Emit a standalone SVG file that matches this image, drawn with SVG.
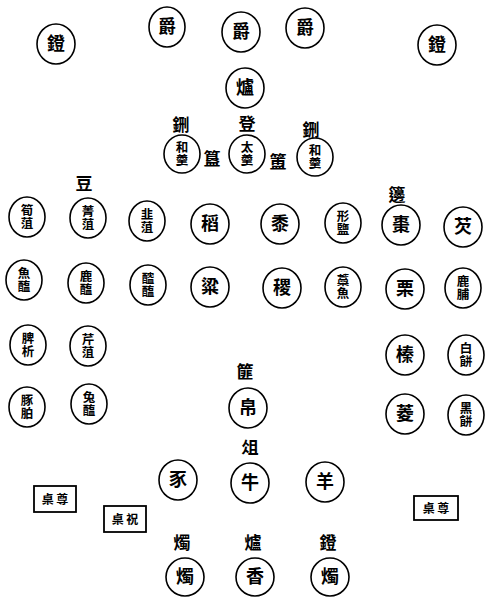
<svg xmlns="http://www.w3.org/2000/svg" width="489" height="597" viewBox="0 0 489 597">
<style>
.c{fill:none;stroke:#000;stroke-width:1.6}
.b{fill:none;stroke:#000;stroke-width:1.8}
text{font-family:"Noto Sans CJK TC","Noto Sans CJK SC",sans-serif;fill:#000;text-anchor:middle;font-weight:bold}
.s{font-size:18px}
.d{font-size:12.5px;writing-mode:vertical-rl;letter-spacing:1px}
.l{font-size:17px}
.bx{font-size:12px}
</style>
<rect width="489" height="597" fill="#fff"/>
<g id="connectors"/>
<g id="deng-l"><ellipse class="c" cx="56" cy="44" rx="19" ry="20"/><text class="s" x="56" y="50">鐙</text></g>
<g id="jue1"><ellipse class="c" cx="167" cy="27" rx="18" ry="20"/><text class="s" x="167" y="33">爵</text></g>
<g id="jue2"><ellipse class="c" cx="241" cy="32" rx="19" ry="20"/><text class="s" x="241" y="38">爵</text></g>
<g id="jue3"><ellipse class="c" cx="305" cy="28" rx="19" ry="20"/><text class="s" x="305" y="34">爵</text></g>
<g id="deng-r"><ellipse class="c" cx="437" cy="45" rx="19" ry="20"/><text class="s" x="437" y="51">鐙</text></g>
<g id="lu"><ellipse class="c" cx="245" cy="88" rx="19" ry="20"/><text class="s" x="245" y="94">爐</text></g>

<g id="xing-l-label"><text class="l" x="181" y="131">鉶</text></g>
<g id="deng-label"><text class="l" x="247" y="130">登</text></g>
<g id="xing-r-label"><text class="l" x="311" y="136">鉶</text></g>
<g id="hegeng-l"><ellipse class="c" cx="182" cy="154" rx="18" ry="19"/><text class="d" x="182" y="154">和羹</text></g>
<g id="gui"><text class="l" x="212" y="165">簋</text></g>
<g id="taigeng"><ellipse class="c" cx="247" cy="154" rx="18" ry="19"/><text class="d" x="247" y="154">太羹</text></g>
<g id="fu"><text class="l" x="278" y="168">簠</text></g>
<g id="hegeng-r"><ellipse class="c" cx="315" cy="157" rx="18" ry="19"/><text class="d" x="315" y="157">和羹</text></g>

<g id="dou-label"><text class="l" x="84" y="190">豆</text></g>
<g id="bian-label"><text class="l" x="397" y="201">籩</text></g>

<g id="sunzu"><ellipse class="c" cx="27" cy="217" rx="18" ry="20"/><text class="d" x="27" y="217">筍菹</text></g>
<g id="jingzu"><ellipse class="c" cx="88" cy="218" rx="18" ry="20"/><text class="d" x="88" y="218">菁菹</text></g>
<g id="jiuzu"><ellipse class="c" cx="147" cy="221" rx="18" ry="20"/><text class="d" x="147" y="221">韭菹</text></g>
<g id="dao"><ellipse class="c" cx="210" cy="224" rx="19" ry="20"/><text class="s" x="210" y="230">稻</text></g>
<g id="shu"><ellipse class="c" cx="280" cy="224" rx="19" ry="20"/><text class="s" x="280" y="230">黍</text></g>
<g id="xingyan"><ellipse class="c" cx="343" cy="223" rx="18" ry="20"/><text class="d" x="343" y="223">形鹽</text></g>
<g id="zao"><ellipse class="c" cx="401" cy="225" rx="19" ry="20"/><text class="s" x="401" y="231">棗</text></g>
<g id="qian"><ellipse class="c" cx="463" cy="227" rx="19" ry="20"/><text class="s" x="463" y="233">芡</text></g>

<g id="yuhai"><ellipse class="c" cx="24" cy="280" rx="18" ry="20"/><text class="d" x="24" y="280">魚醢</text></g>
<g id="luhai"><ellipse class="c" cx="86" cy="283" rx="18" ry="20"/><text class="d" x="86" y="283">鹿醢</text></g>
<g id="tanhai"><ellipse class="c" cx="148" cy="285" rx="18" ry="20"/><text class="d" x="148" y="285">醓醢</text></g>
<g id="liang"><ellipse class="c" cx="210" cy="287" rx="19" ry="20"/><text class="s" x="210" y="293">粱</text></g>
<g id="ji"><ellipse class="c" cx="282" cy="288" rx="19" ry="20"/><text class="s" x="282" y="294">稷</text></g>
<g id="gaoyu"><ellipse class="c" cx="343" cy="287" rx="18" ry="20"/><text class="d" x="343" y="287">藁魚</text></g>
<g id="li"><ellipse class="c" cx="405" cy="289" rx="19" ry="20"/><text class="s" x="405" y="295">栗</text></g>
<g id="lufu"><ellipse class="c" cx="463" cy="288" rx="18" ry="20"/><text class="d" x="463" y="288">鹿脯</text></g>

<g id="pixi"><ellipse class="c" cx="28" cy="345" rx="18" ry="20"/><text class="d" x="28" y="345">脾析</text></g>
<g id="qinzu"><ellipse class="c" cx="88" cy="346" rx="18" ry="20"/><text class="d" x="88" y="346">芹菹</text></g>
<g id="zhen"><ellipse class="c" cx="405" cy="355" rx="19" ry="20"/><text class="s" x="405" y="361">榛</text></g>
<g id="baibing"><ellipse class="c" cx="466" cy="355" rx="18" ry="20"/><text class="d" x="466" y="355">白餅</text></g>

<g id="tunpo"><ellipse class="c" cx="27" cy="407" rx="18" ry="20"/><text class="d" x="27" y="407">豚胉</text></g>
<g id="tuhai"><ellipse class="c" cx="89" cy="404" rx="18" ry="20"/><text class="d" x="89" y="404">兔醢</text></g>
<g id="fei-label"><text class="l" x="245" y="378">篚</text></g>
<g id="bo"><ellipse class="c" cx="248" cy="408" rx="19" ry="20"/><text class="s" x="248" y="414">帛</text></g>
<g id="ling"><ellipse class="c" cx="405" cy="414" rx="19" ry="20"/><text class="s" x="405" y="420">菱</text></g>
<g id="heibing"><ellipse class="c" cx="466" cy="415" rx="18" ry="20"/><text class="d" x="466" y="415">黑餅</text></g>

<g id="zu-label"><text class="l" x="250" y="454">俎</text></g>
<g id="shi"><ellipse class="c" cx="178" cy="480" rx="19" ry="20"/><text class="s" x="178" y="486">豕</text></g>
<g id="niu"><ellipse class="c" cx="250" cy="483" rx="19" ry="20"/><text class="s" x="250" y="489">牛</text></g>
<g id="yang"><ellipse class="c" cx="325" cy="482" rx="19" ry="20"/><text class="s" x="325" y="488">羊</text></g>

<g id="zunzhuo-l"><rect class="b" x="34" y="486" width="42" height="26"/><text class="bx" x="55" y="504">桌 尊</text></g>
<g id="zhuzhuo"><rect class="b" x="104" y="506" width="42" height="26"/><text class="bx" x="125" y="524">桌 祝</text></g>
<g id="zunzhuo-r"><rect class="b" x="414" y="496" width="44" height="24"/><text class="bx" x="436" y="513">桌 尊</text></g>

<g id="zhu-l-label"><text class="l" x="182" y="549">燭</text></g>
<g id="lu-label"><text class="l" x="253" y="549">爐</text></g>
<g id="deng-label2"><text class="l" x="328" y="549">鐙</text></g>
<g id="zhu-l"><ellipse class="c" cx="185" cy="577" rx="19" ry="19"/><text class="s" x="185" y="583">燭</text></g>
<g id="xiang"><ellipse class="c" cx="255" cy="577" rx="19" ry="19"/><text class="s" x="255" y="583">香</text></g>
<g id="zhu-r"><ellipse class="c" cx="330" cy="577" rx="19" ry="19"/><text class="s" x="330" y="583">燭</text></g>
</svg>
